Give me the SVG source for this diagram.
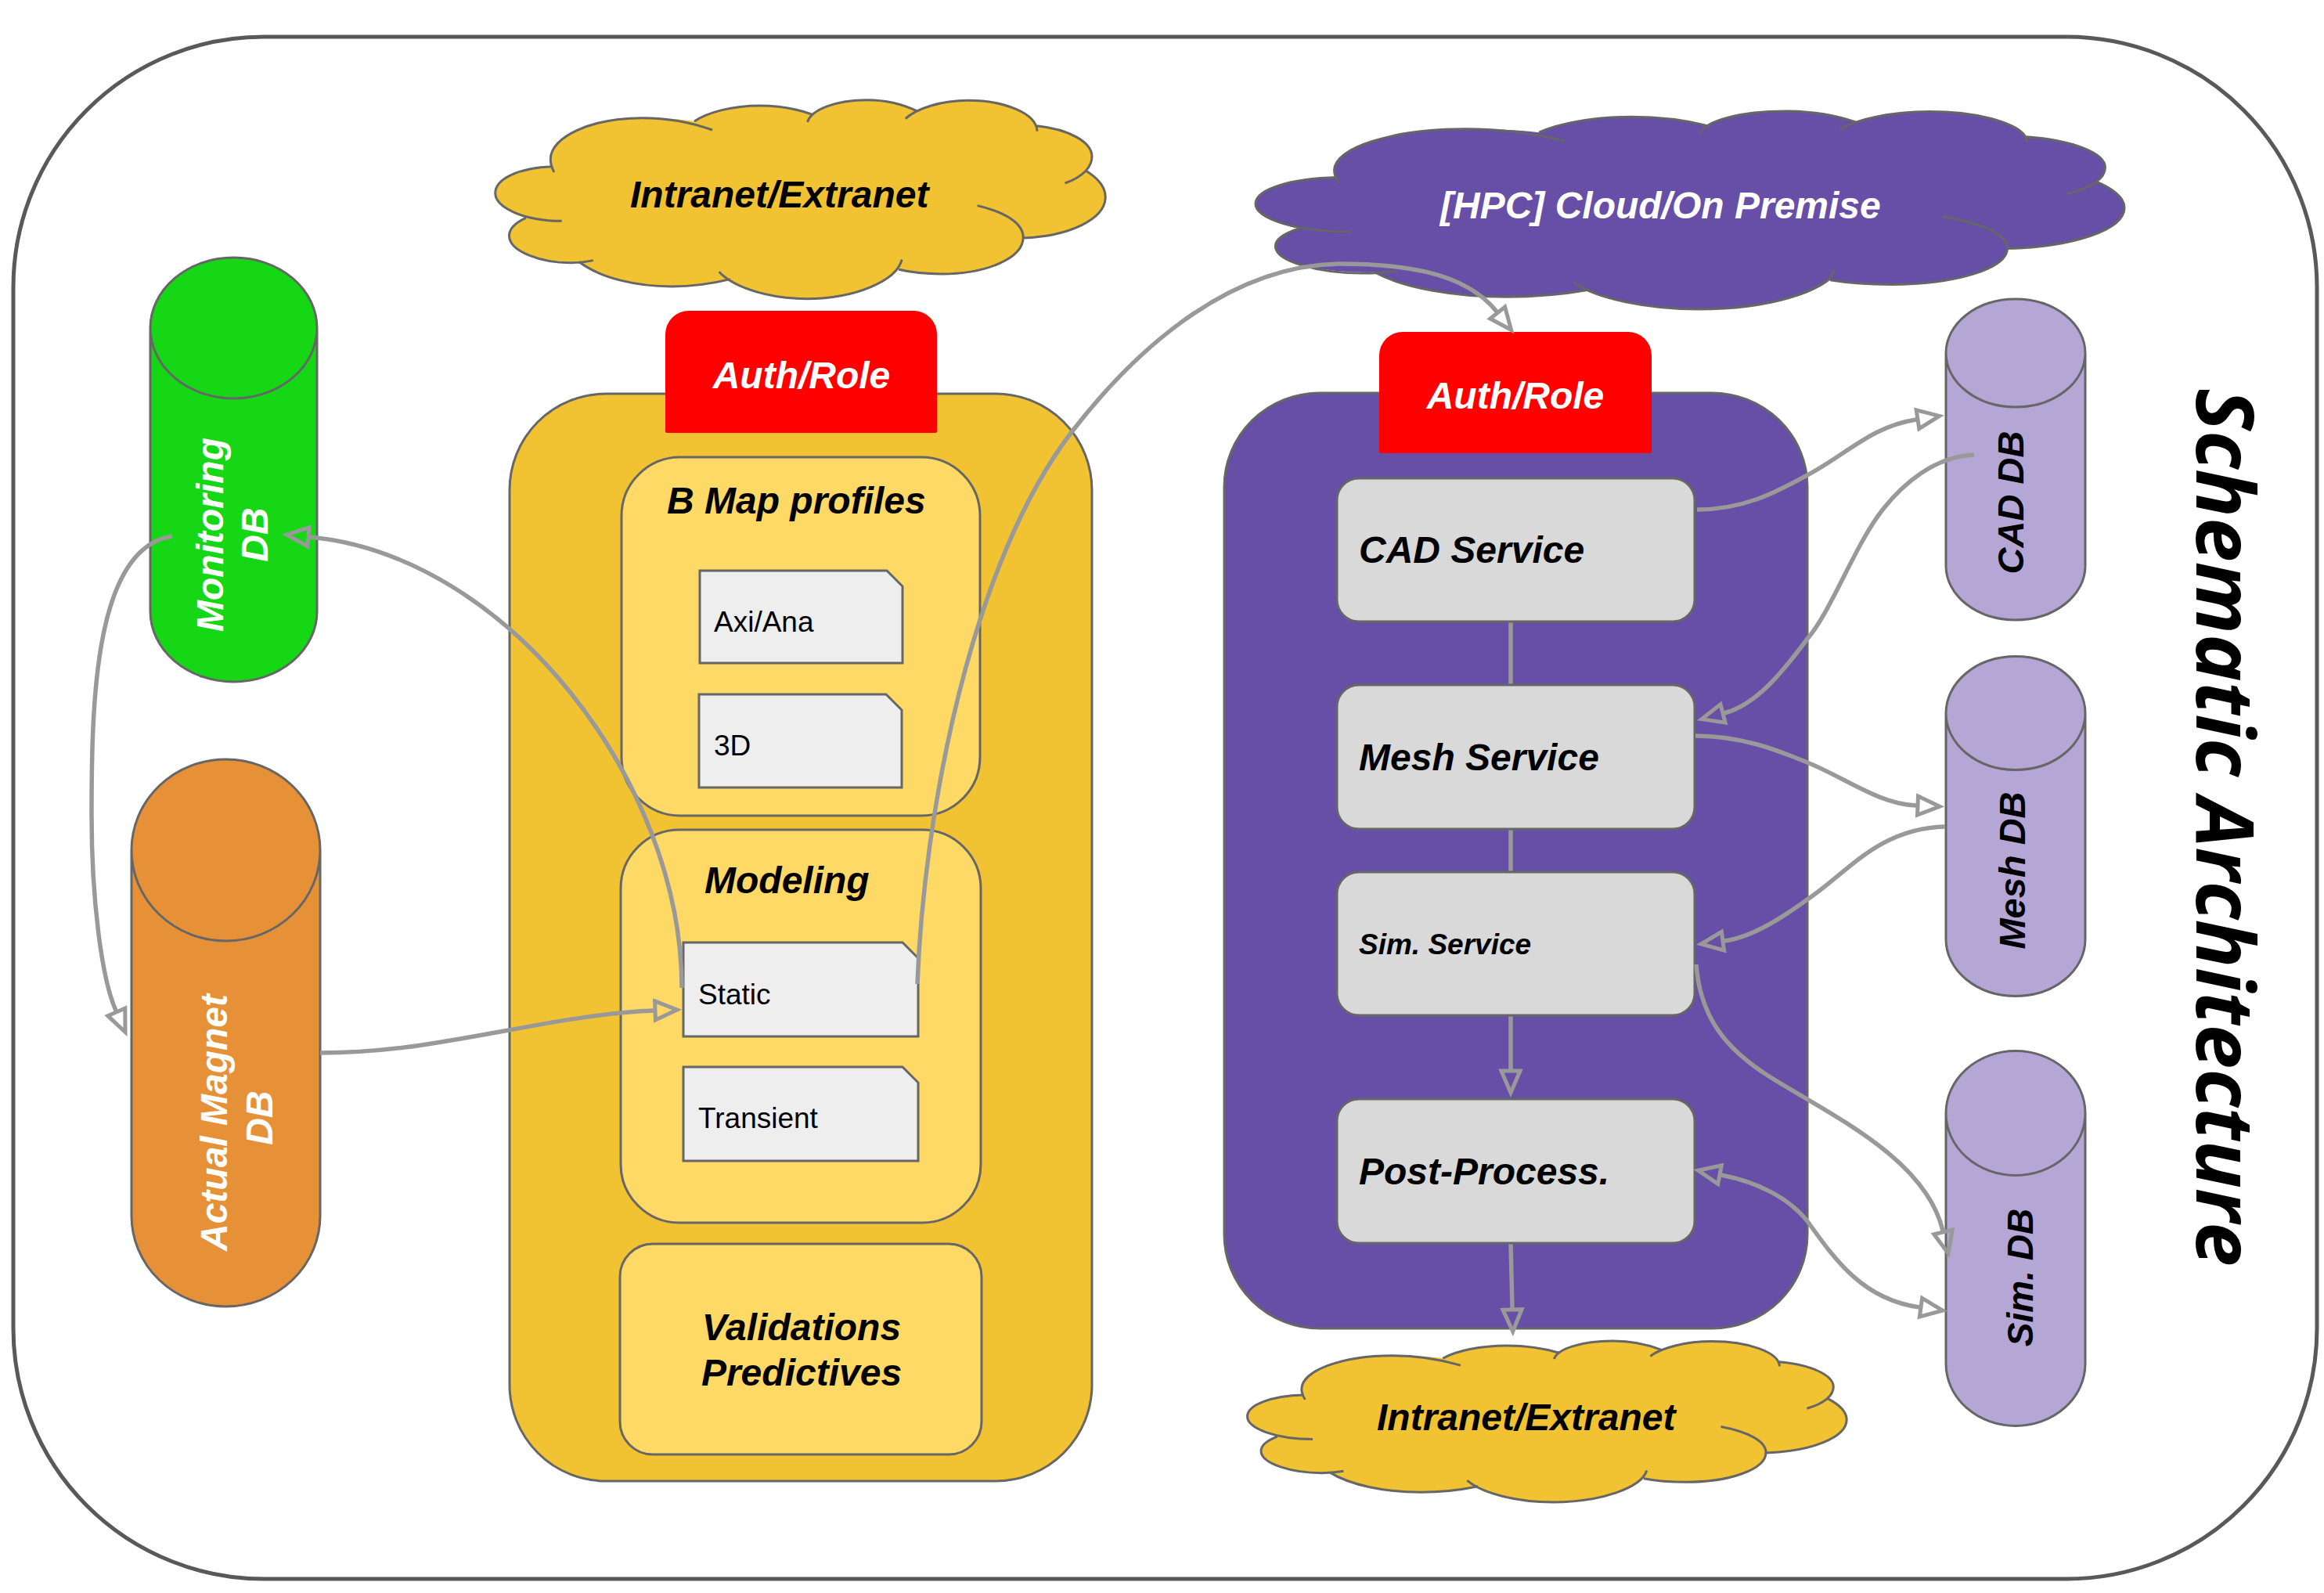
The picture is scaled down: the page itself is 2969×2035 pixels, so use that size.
<svg xmlns="http://www.w3.org/2000/svg" width="2969" height="2035" viewBox="0 0 2969 2035">
<style>
.s{stroke:#666;stroke-width:3}
.y{fill:#f1c232}.ly{fill:#ffd966}.p{fill:#674ea7}.lp{fill:#b4a7d6}.r{fill:#f00}.g{fill:#d9d9d9}.d{fill:#eee}
text{font-family:"Liberation Sans",Arial,sans-serif;font-size:48px;font-weight:bold;font-style:italic;fill:#000}
.w{fill:#fff}.n{font-size:37px;font-weight:normal;font-style:normal}
.c{text-anchor:middle}
.cn path{fill:none;stroke:#999;stroke-width:5.5}
.ne{vector-effect:non-scaling-stroke}
</style>
<defs>
<marker id="a" markerUnits="userSpaceOnUse" markerWidth="46" markerHeight="36" refX="0" refY="16" orient="auto-start-reverse" overflow="visible"><path d="M2 4L30 16L2 28Z" fill="none" stroke="#999" stroke-width="5"/></marker>
<g id="cloud">
<path stroke="none" d="M183 338C110 342 57 385 57 440C57 480 85 515 125 535C100 555 88 580 88 603C88 665 160 707 243 703C290 765 370 798 450 798C495 798 540 787 572 773C610 815 680 845 750 845C845 845 925 795 955 733C985 745 1015 750 1050 750C1150 750 1232 690 1232 612C1335 605 1415 540 1415 455C1415 420 1400 385 1372 355C1380 340 1385 320 1385 300C1385 245 1335 195 1262 182C1240 125 1180 85 1110 85C1065 85 1025 102 995 125C965 100 925 83 885 83C830 83 785 105 765 140C730 118 690 105 645 105C585 105 530 130 500 165C465 155 425 152 385 152C270 152 180 225 180 310Z"/>
<path fill="none" stroke="#666" stroke-width="3" class="ne" d="M185 338C110 342 57 385 57 440C57 495 120 547 205 547M125 535C100 555 88 580 88 603C88 665 160 707 225 707C245 707 262 703 275 698M243 703C290 765 370 798 450 798C500 798 545 785 580 770M555 742C590 805 670 845 750 845C860 845 950 775 962 695M955 733C985 745 1015 750 1050 750C1150 750 1232 690 1232 610C1232 555 1190 512 1130 488M1232 612C1335 605 1415 540 1415 455C1415 420 1400 385 1372 355M1325 402C1365 378 1385 340 1385 300C1385 245 1335 195 1262 182M1263 203C1262 135 1190 85 1110 85C1050 85 995 115 970 155M995 125C965 100 925 83 885 83C815 83 760 120 752 168M765 140C730 118 690 105 645 105C585 105 530 130 500 165M540 198C495 170 440 152 385 152C270 152 180 225 180 310C180 327 183 345 188 360"/>
</g>
</defs>
<rect width="2969" height="2035" fill="#fff"/>
<g id="frame"><rect x="17" y="47" width="2943" height="1970" rx="320" ry="320" fill="#fff" stroke="#595959" stroke-width="5"/></g>
<text id="title" transform="translate(2806,496) rotate(90)" style="font-family:'Open Sans',sans-serif;font-size:102px">Schematic Architecture</text>

<g id="cloud-top" class="y"><use href="#cloud" transform="translate(600,100) scale(.574,.3333)"/><text x="805" y="265">Intranet/Extranet</text></g>
<g id="cloud-hpc" class="p"><use href="#cloud" transform="translate(1557.4,114.4) scale(.8174,.332)"/><text class="w" x="1840" y="279">[HPC] Cloud/On Premise</text></g>
<g id="cloud-bottom" class="y"><use href="#cloud" transform="translate(1561.4,1690.6) scale(.5638,.2703)"/><text x="1759" y="1827">Intranet/Extranet</text></g>

<g id="monitoring-db"><path class="s" fill="#16d716" d="M192 419V781A106.500 90 0 0 0 405 781V419A106.500 90 0 0 0 192 419A106.500 90 0 0 0 405 419"/><text class="w c" transform="translate(285,683) rotate(-90)">Monitoring</text><text class="w c" transform="translate(342,683) rotate(-90)">DB</text></g>
<g id="magnet-db"><path class="s" fill="#e69138" d="M168 1086V1553A120.500 116 0 0 0 409 1553V1086A120.500 116 0 0 0 168 1086A120.500 116 0 0 0 409 1086"/><text class="w c" transform="translate(290,1434) rotate(-90)">Actual Magnet</text><text class="w c" transform="translate(348,1428) rotate(-90)">DB</text></g>

<g id="bmap-app"><rect class="y s" x="651" y="503" width="744" height="1389" rx="123" ry="123"/></g>
<g id="auth-left"><path class="r" d="M850 427A30 30 0 0 1 880 397H1167A30 30 0 0 1 1197 427V551Q1197 553 1195 553H852Q850 553 850 551Z"/><text class="w c" x="1024" y="496">Auth/Role</text></g>
<g id="bmap-profiles"><rect class="ly s" x="794" y="584" width="458" height="458" rx="75" ry="75"/><text x="852" y="656">B Map profiles</text></g>
<g id="doc-axi"><path class="d s" d="M894 729H1133L1153 749V847H894Z"/><text class="n" x="912" y="807">Axi/Ana</text></g>
<g id="doc-3d"><path class="d s" d="M893 887H1132L1152 907V1006H893Z"/><text class="n" x="912" y="965">3D</text></g>
<g id="modeling"><rect class="ly s" x="793" y="1060" width="460" height="502" rx="75" ry="75"/><text x="900" y="1141">Modeling</text></g>
<g id="doc-static"><path class="d s" d="M873 1204H1153L1173 1224V1324H873Z"/><text class="n" x="892" y="1283">Static</text></g>
<g id="doc-transient"><path class="d s" d="M873 1363H1153L1173 1383V1483H873Z"/><text class="n" x="892" y="1441">Transient</text></g>
<g id="validations"><rect class="ly s" x="792" y="1589" width="462" height="269" rx="42" ry="42"/><text class="c" x="1024" y="1712">Validations</text><text class="c" x="1024" y="1770">Predictives</text></g>

<g id="sim-app"><rect class="p s" x="1564" y="502" width="745" height="1195" rx="122" ry="120"/></g>
<g id="auth-right"><path class="r" d="M1762 454A30 30 0 0 1 1792 424H2080A30 30 0 0 1 2110 454V577Q2110 579 2108 579H1764Q1762 579 1762 577Z"/><text class="w c" x="1936" y="522">Auth/Role</text></g>

<g class="cn" id="connectors-inner">
<path d="M1930 794V875M1930 1058V1114"/>
<path d="M1930 1297V1366" marker-end="url(#a)"/>
<path d="M1930 1589L1932 1671" marker-end="url(#a)"/>
</g>

<g id="cad-service"><rect class="g s" x="1708" y="611" width="457" height="183" rx="28" ry="28"/><text x="1736" y="719">CAD Service</text></g>
<g id="mesh-service"><rect class="g s" x="1708" y="875" width="457" height="184" rx="28" ry="28"/><text x="1736" y="984">Mesh Service</text></g>
<g id="sim-service"><rect class="g s" x="1708" y="1114" width="457" height="183" rx="28" ry="28"/><text style="font-size:37px" x="1736" y="1219">Sim. Service</text></g>
<g id="post-process"><rect class="g s" x="1708" y="1404" width="457" height="184" rx="28" ry="28"/><text x="1736" y="1513">Post-Process.</text></g>

<g id="cad-db"><path class="lp s" d="M2486 451V723A89 69 0 0 0 2664 723V451A89 69 0 0 0 2486 451A89 69 0 0 0 2664 451"/><text style="font-size:47px" class="c" transform="translate(2585,642) rotate(-90)">CAD DB</text></g>
<g id="mesh-db"><path class="lp s" d="M2486 911V1200A89 72.500 0 0 0 2664 1200V911A89 72.500 0 0 0 2486 911A89 72.500 0 0 0 2664 911"/><text style="font-size:47px" class="c" transform="translate(2587,1112) rotate(-90)">Mesh DB</text></g>
<g id="sim-db"><path class="lp s" d="M2486 1422V1742A89 79.500 0 0 0 2664 1742V1422A89 79.500 0 0 0 2486 1422A89 79.500 0 0 0 2664 1422"/><text style="font-size:46px" class="c" transform="translate(2597,1632) rotate(-90)">Sim. DB</text></g>

<g class="cn" id="connectors">
<path d="M871 1262C871 1000 650 710 396 686" marker-end="url(#a)"/>
<path d="M220 685C120 700 117 900 117 1041C117 1150 130 1250 148 1291" marker-end="url(#a)"/>
<path d="M409 1345C500 1345 570 1330 650 1316C720 1303 780 1293 835 1291" marker-end="url(#a)"/>
<path d="M1172 1257C1180 1040 1240 720 1369 552C1440 460 1560 340 1710 337C1785 337 1870 345 1912 398" marker-end="url(#a)"/>
<path d="M2168 651C2235 651 2280 622 2309 607C2360 580 2390 545 2448 536" marker-end="url(#a)"/>
<path d="M2522 581C2470 583 2430 620 2406 650C2370 695 2340 780 2309 816C2280 855 2245 900 2203 911" marker-end="url(#a)"/>
<path d="M2166 940C2225 940 2270 958 2309 974C2360 995 2400 1027 2448 1029" marker-end="url(#a)"/>
<path d="M2485 1056C2400 1058 2360 1115 2309 1149C2280 1170 2240 1197 2203 1202" marker-end="url(#a)"/>
<path d="M2167 1232C2172 1300 2205 1340 2260 1375C2340 1425 2460 1480 2482 1572" marker-end="url(#a)"/>
<path d="M2199 1501C2245 1510 2285 1530 2309 1560C2345 1610 2380 1660 2452 1670" marker-start="url(#a)" marker-end="url(#a)"/>
</g>
</svg>
